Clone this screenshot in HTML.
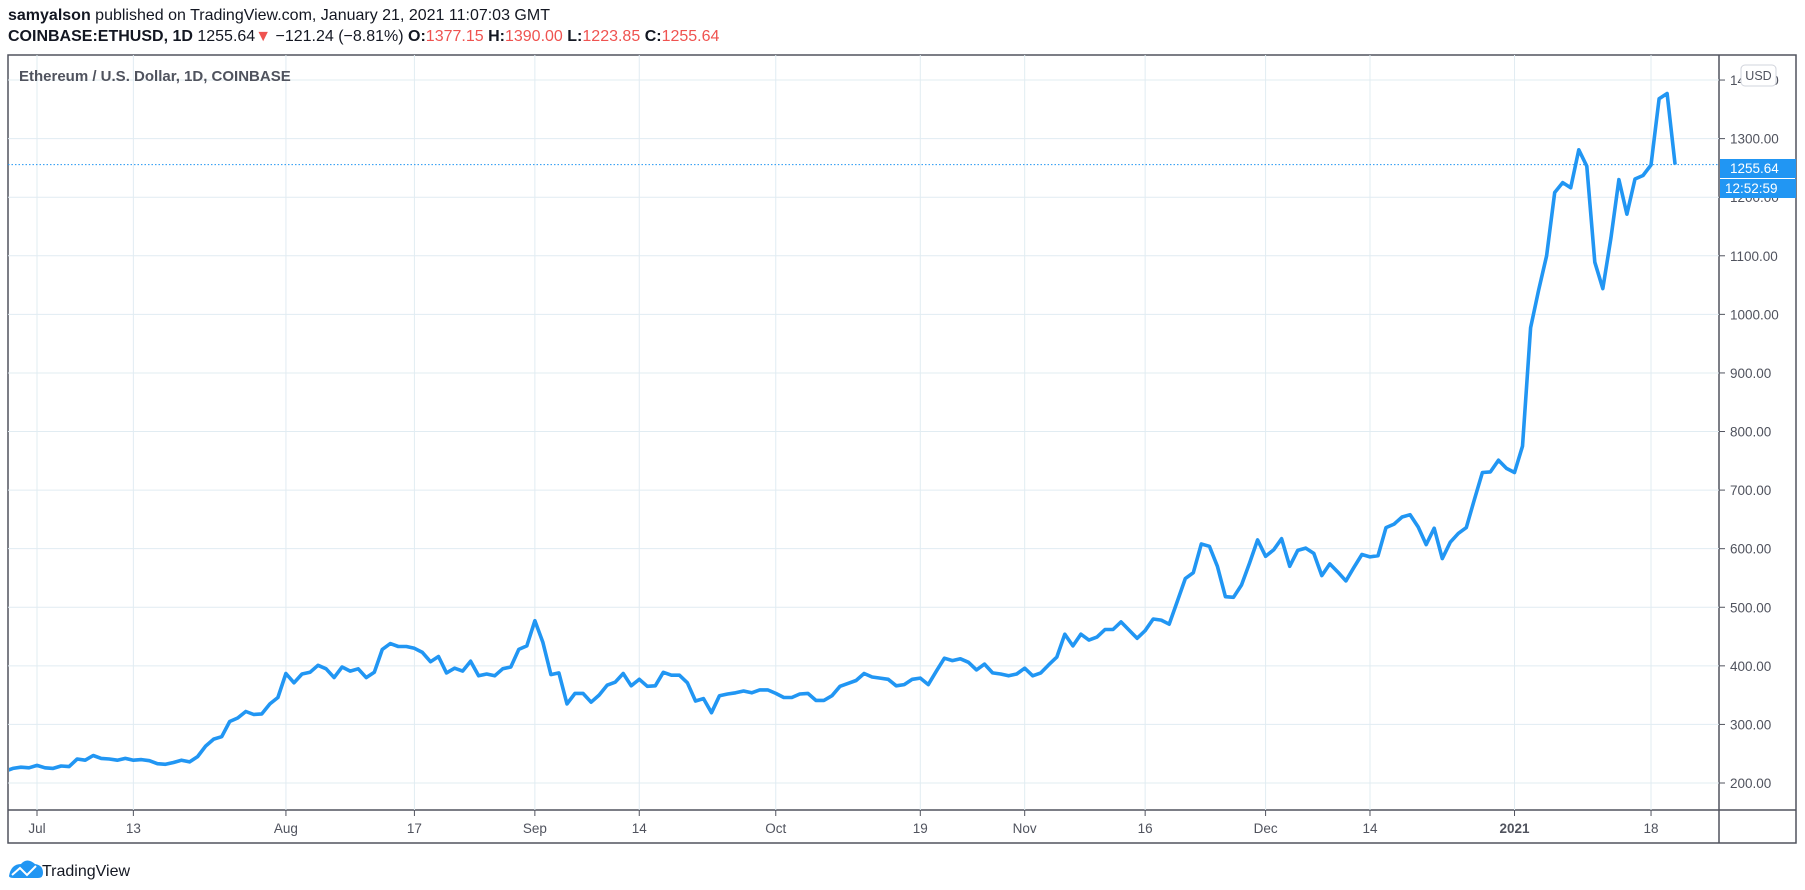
<!DOCTYPE html>
<html><head><meta charset="utf-8"><style>
body{margin:0;background:#fff;width:1805px;height:890px;overflow:hidden;font-family:"Liberation Sans",sans-serif;}
.h{position:absolute;left:8px;font-size:16px;color:#131722;white-space:nowrap}
.r{color:#ef5350}
</style></head><body>
<div class="h" style="top:7px"><b>samyalson</b> published on TradingView.com, January 21, 2021 11:07:03 GMT</div>
<div class="h" style="top:28px"><b>COINBASE:ETHUSD, 1D</b> 1255.64<span class="r">▼</span> −121.24 (−8.81%) <b>O:</b><span class="r">1377.15</span> <b>H:</b><span class="r">1390.00</span> <b>L:</b><span class="r">1223.85</span> <b>C:</b><span class="r">1255.64</span></div>
<svg id="s" width="1805" height="890" style="position:absolute;left:0;top:0" xmlns="http://www.w3.org/2000/svg"></svg>
<script>
const d=[220,225,227,226,
230,226,225,229,228,241,239,247,242,241,239,242,239,240,238,233,232,235,239,236,245,263,275,279,305,311,322,317,318,335,346,
387,371,386,389,401,395,380,398,391,395,380,389,428,438,433,433,430,423,407,416,388,396,391,408,383,386,383,395,398,428,434,
477,440,385,388,335,353,353,338,350,367,372,387,366,377,365,366,389,384,384,371,340,344,320,349,352,354,357,354,359,359,
353,346,346,352,353,341,341,349,365,370,375,387,381,379,377,366,368,377,379,368,391,413,409,412,406,393,403,388,386,383,386,
396,383,388,402,415,454,434,454,444,449,462,462,475,461,447,460,480,478,471,510,549,559,608,604,570,518,517,538,575,615,
587,598,617,570,597,601,592,554,574,560,545,568,590,586,588,636,642,654,658,637,607,635,583,611,626,636,684,730,731,751,737,
730,775,977,1041,1100,1208,1225,1216,1281,1253,1089,1044,1130,1230,1171,1231,1237,1255,1368,1377,1255.64];
const X=i=>37+(i-4)*8.03, Y=p=>783-(p-200)*0.5858;
let g='';
g+='<rect x="8" y="55" width="1788" height="788" fill="none" stroke="#50535e" stroke-width="1.5"/>';
g+='<line x1="1719" y1="55" x2="1719" y2="843" stroke="#50535e" stroke-width="1.5"/>';
g+='<line x1="8" y1="810" x2="1796" y2="810" stroke="#50535e" stroke-width="1.5"/>';
for(let p=200;p<=1400;p+=100){const y=Y(p);g+=`<line x1="8" y1="${y}" x2="1719" y2="${y}" stroke="#e1ecf2"/><line x1="1719" y1="${y}" x2="1725" y2="${y}" stroke="#50535e"/><text x="1730" y="${y+5}" font-size="13.5" fill="#50535e">${p.toFixed(2)}</text>`;}
const xl=[["Jul",0],["13",12],["Aug",31],["17",47],["Sep",62],["14",75],["Oct",92],["19",110],["Nov",123],["16",138],["Dec",153],["14",166],["2021",184],["18",201]];
for(const [t,dd] of xl){const x=37+dd*8.03;g+=`<line x1="${x}" y1="55" x2="${x}" y2="810" stroke="#e1ecf2"/><line x1="${x}" y1="810" x2="${x}" y2="816" stroke="#50535e"/><text x="${x}" y="833" font-size="13.5" text-anchor="middle" fill="#50535e" ${t=="2021"?'font-weight="bold"':''}>${t}</text>`;}
g+='<text x="19" y="81" font-size="15" font-weight="bold" fill="#50535e">Ethereum / U.S. Dollar, 1D, COINBASE</text>';
const ly=Y(1255.64);
g+=`<line x1="8" y1="${ly}" x2="1719" y2="${ly}" stroke="#2196f3" stroke-dasharray="1.5 2"/>`;
g+='<clipPath id="c"><rect x="9" y="56" width="1709" height="753"/></clipPath>';
g+='<polyline clip-path="url(#c)" fill="none" stroke="#2196f3" stroke-width="3.6" stroke-linejoin="round" points="'+d.map((p,i)=>X(i).toFixed(1)+','+Y(p).toFixed(1)).join(' ')+'"/>';
g+='<rect x="1720" y="159" width="76" height="19" fill="#2196f3"/><text x="1730" y="173" font-size="13.5" fill="#fff">1255.64</text>';
g+='<rect x="1720" y="179" width="76" height="19" fill="#2196f3"/><text x="1725" y="193" font-size="13.5" fill="#fff">12:52:59</text>';
g+='<rect x="1741" y="65" width="35" height="21" rx="4" fill="#fff" stroke="#d1d4dc"/><text x="1758.5" y="80" font-size="12.5" text-anchor="middle" fill="#50535e">USD</text>';
g+='<path d="M9 876 q2-12 12-12 q6-7 14 0 q8 1 8 9 q0 5-5 5 h-24 q-5 0-5-2z" fill="#2196f3"/><polyline points="12,875 20,868 27,875 36,866" fill="none" stroke="#fff" stroke-width="2"/>';
g+='<text x="42" y="876" font-size="16" fill="#131722">TradingView</text>';
document.getElementById('s').innerHTML=g;
</script>
</body></html>
